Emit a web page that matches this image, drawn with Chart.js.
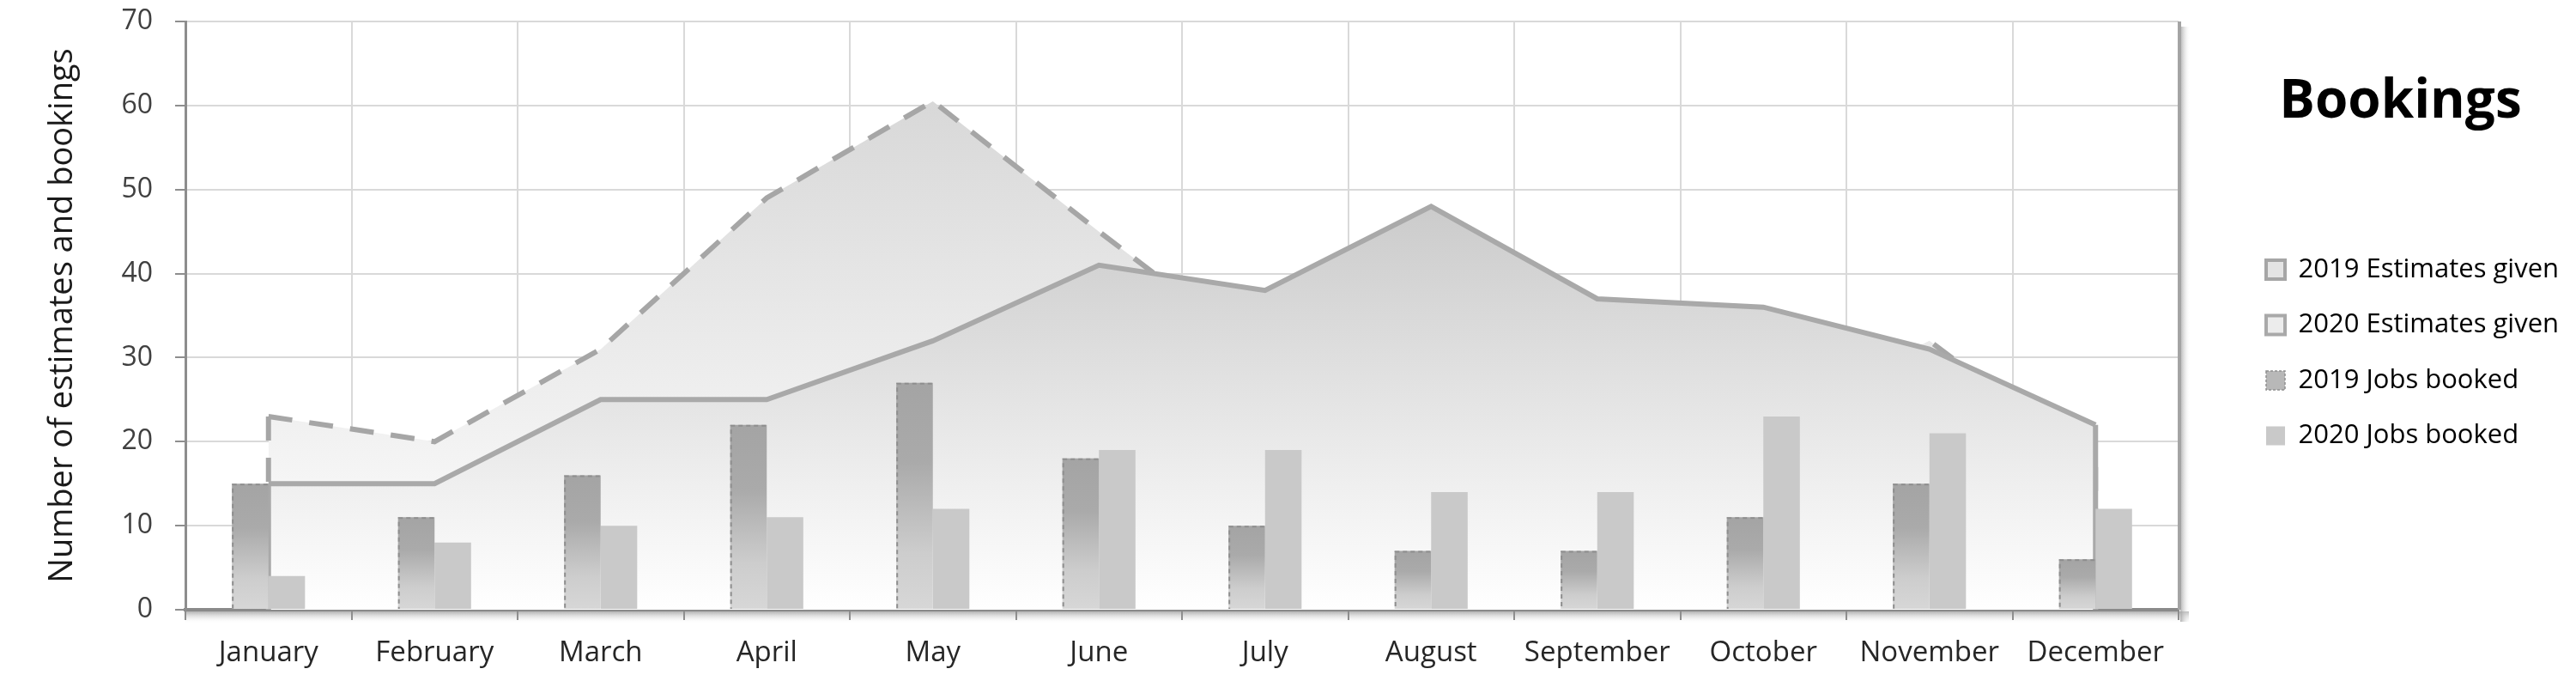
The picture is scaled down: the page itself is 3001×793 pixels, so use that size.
<!DOCTYPE html>
<html>
<head>
<meta charset="utf-8">
<title>Bookings</title>
<script src="https://cdn.jsdelivr.net/npm/chart.js@4.4.1/dist/chart.umd.min.js"></script>
<style>
  body { margin: 0; background: #ffffff; }
  #chart-box { width: 3001px; height: 793px; }
</style>
</head>
<body>
<div id="chart-box"><canvas id="myChart" width="3001" height="793"></canvas></div>
<script>
const months = ['January', 'February', 'March', 'April', 'May', 'June', 'July', 'August', 'September', 'October', 'November', 'December'];
const estimates2019 = [23, 20, 31, 49, 60.5, 45, 30, 32, 27, 22, 32, 17];
const estimates2020 = [15, 15, 25, 25, 32, 41, 38, 48, 37, 36, 31, 22];
const jobs2019 = [15, 11, 16, 22, 27, 18, 10, 7, 7, 11, 15, 6];
const jobs2020 = [4, 8, 10, 11, 12, 19, 19, 14, 14, 23, 21, 12];
const yTicks = [0, 10, 20, 30, 40, 50, 60, 70];

Chart.defaults.font.family = "'Open Sans', sans-serif";

// vertical fade from the top of an area down to white at zero
function areaFill(values, topColor) {
  return (context) => {
    const chart = context.chart;
    const yScale = chart.scales.y;
    if (!chart.chartArea || !yScale) return topColor;
    const top = yScale.getPixelForValue(Math.max(...values));
    const bottom = yScale.getPixelForValue(0);
    const g = chart.ctx.createLinearGradient(0, top, 0, bottom);
    g.addColorStop(0, topColor);
    g.addColorStop(1, '#ffffff');
    return g;
  };
}

// each 2019 jobs bar gets its own dark-to-light gradient
function barFill(context) {
  const chart = context.chart;
  const yScale = chart.scales.y;
  if (!chart.chartArea || !yScale || context.type !== 'data') return '#b4b4b4';
  const top = yScale.getPixelForValue(context.parsed.y);
  const bottom = yScale.getPixelForValue(0);
  const g = chart.ctx.createLinearGradient(0, top, 0, bottom);
  g.addColorStop(0, '#a4a4a4');
  g.addColorStop(0.35, '#aaaaaa');
  g.addColorStop(0.75, '#cdcdcd');
  g.addColorStop(1, '#d7d7d7');
  return g;
}

const plotFrame = {
  id: 'plotFrame',
  beforeDraw(chart) {
    const {ctx, chartArea} = chart;
    ctx.save();
    let g = ctx.createLinearGradient(0, chartArea.bottom + 2, 0, chartArea.bottom + 16);
    g.addColorStop(0, 'rgba(160,160,160,0.8)');
    g.addColorStop(1, 'rgba(255,255,255,0)');
    ctx.fillStyle = g;
    ctx.fillRect(chartArea.left, chartArea.bottom + 2, chartArea.width + 12, 14);
    g = ctx.createLinearGradient(chartArea.right + 2, 0, chartArea.right + 14, 0);
    g.addColorStop(0, 'rgba(160,160,160,0.8)');
    g.addColorStop(1, 'rgba(255,255,255,0)');
    ctx.fillStyle = g;
    ctx.fillRect(chartArea.right + 2, chartArea.top + 6, 12, chartArea.height + 8);
    ctx.restore();
  },
  afterDatasetDraw(chart, args) {
    const ds = chart.data.datasets[args.index];
    const ctx = chart.ctx;
    const zero = chart.scales.y.getPixelForValue(0);
    const points = args.meta.data;
    ctx.save();
    if (ds.type === 'line') {
      // closing edges of the area at the first and last month
      ctx.strokeStyle = ds.borderColor;
      ctx.lineWidth = ds.borderWidth;
      ctx.setLineDash(ds.borderDash || []);
      [points[0], points[points.length - 1]].forEach(p => {
        ctx.beginPath();
        ctx.moveTo(p.x, p.y);
        ctx.lineTo(p.x, zero);
        ctx.stroke();
      });
    } else if (ds.dashedOutline) {
      ctx.strokeStyle = '#8e8e8e';
      ctx.lineWidth = 2;
      ctx.setLineDash([5, 4]);
      points.forEach(bar => {
        const {x, y, base, width} = bar.getProps(['x', 'y', 'base', 'width'], true);
        ctx.beginPath();
        ctx.moveTo(x + width / 2 - 1, y + 1);
        ctx.lineTo(x - width / 2 + 1, y + 1);
        ctx.lineTo(x - width / 2 + 1, base);
        ctx.stroke();
      });
    }
    ctx.restore();
  },
  afterDraw(chart) {
    const {ctx, chartArea} = chart;
    ctx.save();
    ctx.strokeStyle = '#a4a4a4';
    ctx.lineWidth = 4;
    ctx.beginPath();
    ctx.moveTo(chartArea.right + 1, chartArea.top);
    ctx.lineTo(chartArea.right + 1, chartArea.bottom);
    ctx.stroke();
    ctx.restore();
  }
};

const myChart = document.getElementById('myChart');
new Chart(myChart, {
  type: 'bar',
  plugins: [plotFrame],
  data: {
    labels: months,
    datasets: [
      {
        type: 'line',
        label: '2019 Estimates given',
        data: estimates2019,
        order: 4,
        fill: 'origin',
        backgroundColor: areaFill(estimates2019, '#d8d8d8'),
        borderColor: '#a6a6a6',
        borderWidth: 6,
        borderDash: [28, 20],
        pointRadius: 0,
        tension: 0
      },
      {
        type: 'line',
        label: '2020 Estimates given',
        data: estimates2020,
        order: 3,
        fill: 'origin',
        backgroundColor: areaFill(estimates2020, '#cbcbcb'),
        borderColor: '#a9a9a9',
        borderWidth: 6,
        pointRadius: 0,
        tension: 0
      },
      {
        label: '2019 Jobs booked',
        data: jobs2019,
        order: 1,
        dashedOutline: true,
        backgroundColor: barFill,
        borderWidth: 0,
        categoryPercentage: 0.44,
        barPercentage: 1
      },
      {
        label: '2020 Jobs booked',
        data: jobs2020,
        order: 2,
        backgroundColor: '#c9c9c9',
        borderWidth: 0,
        categoryPercentage: 0.44,
        barPercentage: 1
      }
    ]
  },
  options: {
    responsive: false,
    animation: false,
    layout: { padding: { top: 25, left: 0, right: 14.5, bottom: 0 } },
    plugins: {
      tooltip: { enabled: false },
      legend: {
        position: 'right',
        align: 'start',
        maxWidth: 380,
        title: {
          display: true,
          text: 'Bookings',
          color: '#000000',
          font: { size: 62, weight: 'bold' },
          padding: { top: 63, bottom: 102.6 }
        },
        labels: {
          color: '#1a1a1a',
          font: { size: 31 },
          boxWidth: 22,
          boxHeight: 22,
          padding: 33.5,
          generateLabels: () => [
            { text: '2019 Estimates given', fillStyle: '#e4e4e4', strokeStyle: '#a6a6a6', lineWidth: 4, hidden: false, datasetIndex: 0 },
            { text: '2020 Estimates given', fillStyle: '#ececec', strokeStyle: '#a9a9a9', lineWidth: 4, hidden: false, datasetIndex: 1 },
            { text: '2019 Jobs booked', fillStyle: '#b8b8b8', strokeStyle: '#909090', lineWidth: 1.5, lineDash: [3, 2], hidden: false, datasetIndex: 2 },
            { text: '2020 Jobs booked', fillStyle: '#c9c9c9', strokeStyle: '#c9c9c9', lineWidth: 0, hidden: false, datasetIndex: 3 }
          ]
        }
      }
    },
    scales: {
      x: {
        grid: { color: '#d9d9d9', lineWidth: 2, offset: true, tickLength: 12, tickColor: '#8e8e8e', tickWidth: 2 },
        border: { color: '#8a8a8a', width: 4 },
        ticks: { color: '#262626', font: { size: 33 }, padding: 19 },
        afterFit: (scale) => { scale.height = 83; }
      },
      y: {
        min: yTicks[0],
        max: yTicks[yTicks.length - 1],
        grid: { color: '#d9d9d9', lineWidth: 2, tickLength: 12, tickColor: '#8e8e8e', tickWidth: 2 },
        border: { color: '#8d8d8d', width: 3 },
        ticks: { stepSize: yTicks[1] - yTicks[0], color: '#404040', font: { size: 32 }, padding: 26 },
        title: {
          display: true,
          text: 'Number of estimates and bookings',
          color: '#1a1a1a',
          font: { size: 38 },
          padding: { top: 50, bottom: 0 }
        },
        afterFit: (scale) => {
          scale.width = 216;
          scale.paddingTop = 0;
          scale.paddingBottom = 0;
        }
      },
      spacer: {
        type: 'linear',
        position: 'right',
        grid: { display: false },
        border: { display: false },
        ticks: { display: false },
        afterFit: (scale) => { scale.width = 68.5; }
      }
    }
  }
});
</script>
</body>
</html>
